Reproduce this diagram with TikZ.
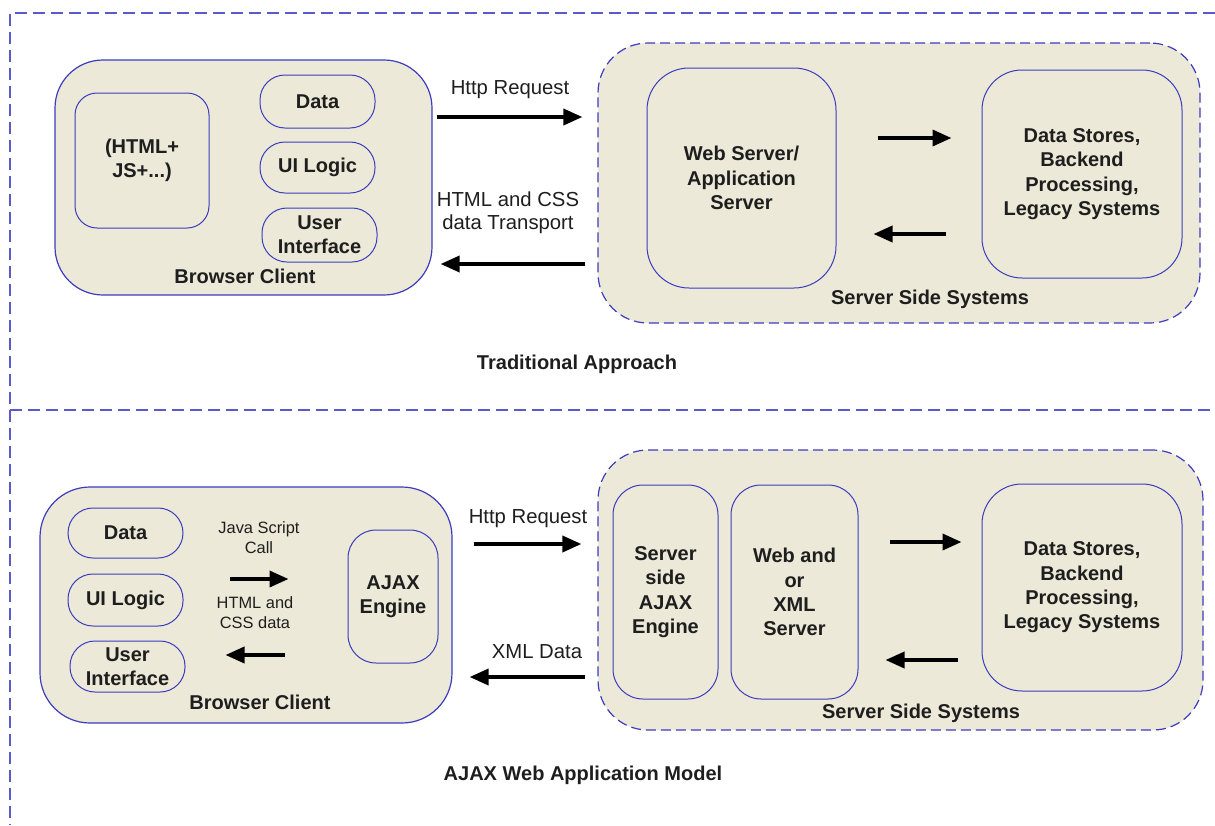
\documentclass[tikz,border=0pt]{standalone}
\usepackage{fontspec}
\setmainfont{Liberation Sans}
\usetikzlibrary{arrows.meta}
\definecolor{fondo}{RGB}{236,233,216}
\definecolor{borde}{RGB}{60,60,190}
\definecolor{marco}{RGB}{90,90,205}
\definecolor{tinta}{RGB}{30,30,30}

\begin{document}
\begin{tikzpicture}[x=1pt, y=-1pt]
    % Estilos de bloques y flechas
    \tikzset{
        block/.style={draw=borde, fill=fondo, line width=1pt, inner sep=0pt, text=tinta},
        outerblock/.style={block, line width=1.2pt, rounded corners=48pt},
        serverblock/.style={block, line width=1.2pt, dashed, dash pattern=on 10pt off 5pt, rounded corners=50pt},
        pill/.style={block, rounded corners=25pt, minimum width=115pt},
        tag/.style={font=\bfseries\fontsize{20}{24.3}\selectfont, align=center, text=tinta},
        lbl/.style={font=\fontsize{20.3}{23}\selectfont, align=center, text=tinta},
        smalllbl/.style={font=\fontsize{16.4}{20}\selectfont, align=center, text=tinta},
        bigarrow/.style={line width=3.6pt, -{Triangle[length=19pt,width=16pt]}}
    }
    \useasboundingbox (0,0) rectangle (1215,825);

    % Marco punteado
    \draw[marco, line width=1.2pt, dash pattern=on 12pt off 6pt] (1215,13) -- (10,13) -- (10,825);
    \draw[marco, line width=1.2pt, dash pattern=on 12pt off 6pt] (10,410) -- (1215,410);

    % Enfoque tradicional
    \node[outerblock, minimum width=377pt, minimum height=235pt] (browser) at (243.5,177.5) {};
    \node[block, tag, rounded corners=22pt, minimum width=134pt, minimum height=135pt] (html) at (142,160.5) {(HTML+\\JS+...)};
    \node[pill, tag, minimum height=53pt] (data) at (317.5,101.5) {Data};
    \node[pill, tag, minimum height=51pt] (uilogic) at (317.5,167.5) {UI Logic};
    \node[pill, tag, minimum height=54pt] (userif) at (319.5,235) {User\\Interface};
    \node[tag] (bclabel) at (245,276) {Browser Client};

    \node[serverblock, minimum width=602pt, minimum height=280pt] (server) at (899,183) {};
    \node[block, tag, rounded corners=42pt, minimum width=189pt, minimum height=220pt] (websrv) at (741.5,178) {Web Server/\\Application\\Server};
    \node[block, tag, rounded corners=40pt, minimum width=200pt, minimum height=208pt] (store) at (1082,174) {Data Stores,\\Backend\\Processing,\\Legacy Systems};
    \node[tag] (sslabel) at (930,299) {Server Side Systems};

    \node[lbl] (req) at (510,90) {Http Request};
    \node[lbl] (resp) at (508,213) {HTML and CSS\\data Transport};
    \node[tag] (title) at (577,364) {Traditional Approach};

    \draw[bigarrow, shorten <=4pt, shorten >=15pt] (browser.east |- 0,117) -- (server.west |- 0,117);
    \draw[bigarrow, shorten <=12pt, shorten >=8pt] (server.west |- 0,264) -- (browser.east |- 0,264);
    \draw[bigarrow, shorten <=41pt, shorten >=30pt] (websrv.east |- 0,138) -- (store.west |- 0,138);
    \draw[bigarrow, shorten <=36pt, shorten >=37pt] (store.west |- 0,234) -- (websrv.east |- 0,234);

    % Modelo AJAX
    \node[outerblock, rounded corners=50pt, minimum width=412pt, minimum height=236pt] (browser2) at (246,605) {};
    \node[pill, tag, minimum height=50pt] (data2) at (125.5,533) {Data};
    \node[pill, tag, minimum height=52pt] (uilogic2) at (125.5,600) {UI Logic};
    \node[pill, tag, minimum height=51pt] (userif2) at (127.5,666.5) {User\\Interface};
    \node[block, tag, rounded corners=28pt, minimum width=90pt, minimum height=133pt] (ajax) at (393,596.5) {AJAX\\Engine};
    \node[smalllbl] (jscall) at (259,538) {Java Script\\Call};
    \node[smalllbl] (htmlcss) at (255,613) {HTML and\\CSS data};
    \node[tag] (bclabel2) at (260,702) {Browser Client};

    \node[serverblock, minimum width=605pt, minimum height=280pt] (server2) at (900.5,590) {};
    \node[block, tag, rounded corners=30pt, minimum width=105pt, minimum height=214pt] (ssajax) at (665.5,592) {Server\\side\\AJAX\\Engine};
    \node[block, tag, rounded corners=30pt, minimum width=127pt, minimum height=214pt] (xmlsrv) at (794.5,592) {Web and\\or\\XML\\Server};
    \node[block, tag, rounded corners=40pt, minimum width=200pt, minimum height=207pt] (store2) at (1082,587.5) {Data Stores,\\Backend\\Processing,\\Legacy Systems};
    \node[tag] (sslabel2) at (921,713) {Server Side Systems};

    \node[lbl] (req2) at (528,519) {Http Request};
    \node[lbl] (xmldata) at (537,652) {XML Data};
    \node[tag] (title2) at (583,775) {AJAX Web Application Model};

    \draw[bigarrow, shorten <=46pt, shorten >=59pt] (uilogic2.east |- 0,579) -- (ajax.west |- 0,579);
    \draw[bigarrow, shorten <=63pt, shorten >=40pt] (ajax.west |- 0,655) -- (userif2.east |- 0,655);
    \draw[bigarrow, shorten <=21pt, shorten >=16pt] (browser2.east |- 0,544) -- (server2.west |- 0,544);
    \draw[bigarrow, shorten <=12pt, shorten >=17pt] (server2.west |- 0,677) -- (browser2.east |- 0,677);
    \draw[bigarrow, shorten <=31pt, shorten >=20pt] (xmlsrv.east |- 0,542) -- (store2.west |- 0,542);
    \draw[bigarrow, shorten <=24pt, shorten >=27pt] (store2.west |- 0,660) -- (xmlsrv.east |- 0,660);
\end{tikzpicture}
\end{document}
